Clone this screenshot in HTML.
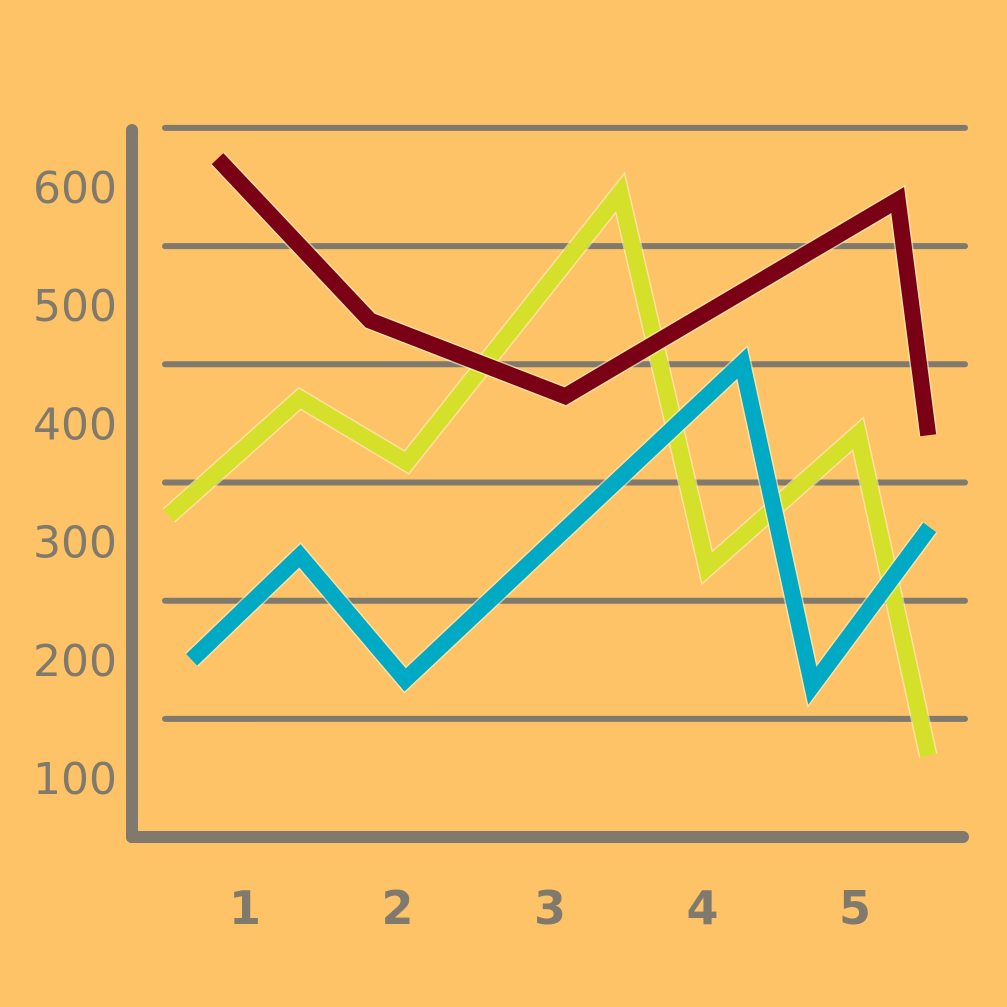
<!DOCTYPE html>
<html><head><meta charset="utf-8"><style>
html,body{margin:0;padding:0;background:#fdc366;}
svg{display:block;}
text{font-family:"DejaVu Sans","Liberation Sans",sans-serif;fill:#7f7a6d;}
</style></head><body>
<svg id="chart" width="1007" height="1007" viewBox="0 0 1007 1007" xmlns="http://www.w3.org/2000/svg">
<rect width="1007" height="1007" fill="#fdc366"/>
<g id="grid"></g>
<g id="axes"></g>
<g id="series"></g>
<g id="labels"></g>
</svg>
<script>
const xTicks = [1, 2, 3, 4, 5];
const yTicks = [100, 200, 300, 400, 500, 600];
const gridValues = [150, 250, 350, 450, 550, 650];
const redX = [0.82, 1.82, 3.10, 5.28, 5.48];
const redY = [624, 487, 423, 589, 390];
const yellowX = [0.50, 1.36, 2.06, 3.46, 4.03, 5.02, 5.48];
const yellowY = [322, 421, 367, 595, 278, 391, 119];
const blueX = [0.65, 1.36, 2.05, 4.26, 4.72, 5.49];
const blueY = [200, 288, 183, 451, 178, 312];

const NS = "http://www.w3.org/2000/svg";
function xs(v){ return 245 + (v - 1) * 152.5; }
function ys(v){ return 896.2 - v * 1.182; }
function mk(tag, attrs, parent){
  const e = document.createElementNS(NS, tag);
  for (const k in attrs) e.setAttribute(k, attrs[k]);
  parent.appendChild(e); return e;
}
const grid = document.getElementById('grid');
gridValues.forEach(v => {
  const l = mk('line', {x1:165, x2:965, y1:ys(v), y2:ys(v), stroke:'#7f7a6d', 'stroke-width':6, 'stroke-linecap':'round'}, grid);
  
  
});
const axes = document.getElementById('axes');
const ya = mk('line', {x1:132, x2:132, y1:130, y2:837, stroke:'#7f7a6d', 'stroke-width':12, 'stroke-linecap':'round'}, axes);


const xa = mk('line', {x1:132, x2:963, y1:837, y2:837, stroke:'#7f7a6d', 'stroke-width':12, 'stroke-linecap':'round'}, axes);



const series = document.getElementById('series');
function drawLine(X, Y, color, name){
  const pts = X.map((x, i) => xs(x) + ',' + ys(Y[i])).join(' ');
  mk('polyline', {points:pts, fill:'none', stroke:'#fff3c8', 'stroke-width':19, 'stroke-linejoin':'miter', 'stroke-miterlimit':10, opacity:0.6}, series);
  const p = mk('polyline', {points:pts, fill:'none', stroke:color, 'stroke-width':16, 'stroke-linejoin':'miter', 'stroke-miterlimit':10}, series);
  
  
}
drawLine(yellowX, yellowY, '#d4e029', 'yellow-series-line');
drawLine(redX, redY, '#7a0016', 'red-series-line');
drawLine(blueX, blueY, '#00a9c4', 'blue-series-line');

const labels = document.getElementById('labels');
yTicks.forEach(v => {
  const t = mk('text', {x:117, y:ys(v) + 16, 'text-anchor':'end', 'font-size':44}, labels);
  t.textContent = v;
  
  
});
xTicks.forEach(v => {
  const t = mk('text', {x:xs(v), y:924, 'text-anchor':'middle', 'font-size':46, 'font-weight':'bold'}, labels);
  t.textContent = v;
  
  
});
</script>
</body></html>
